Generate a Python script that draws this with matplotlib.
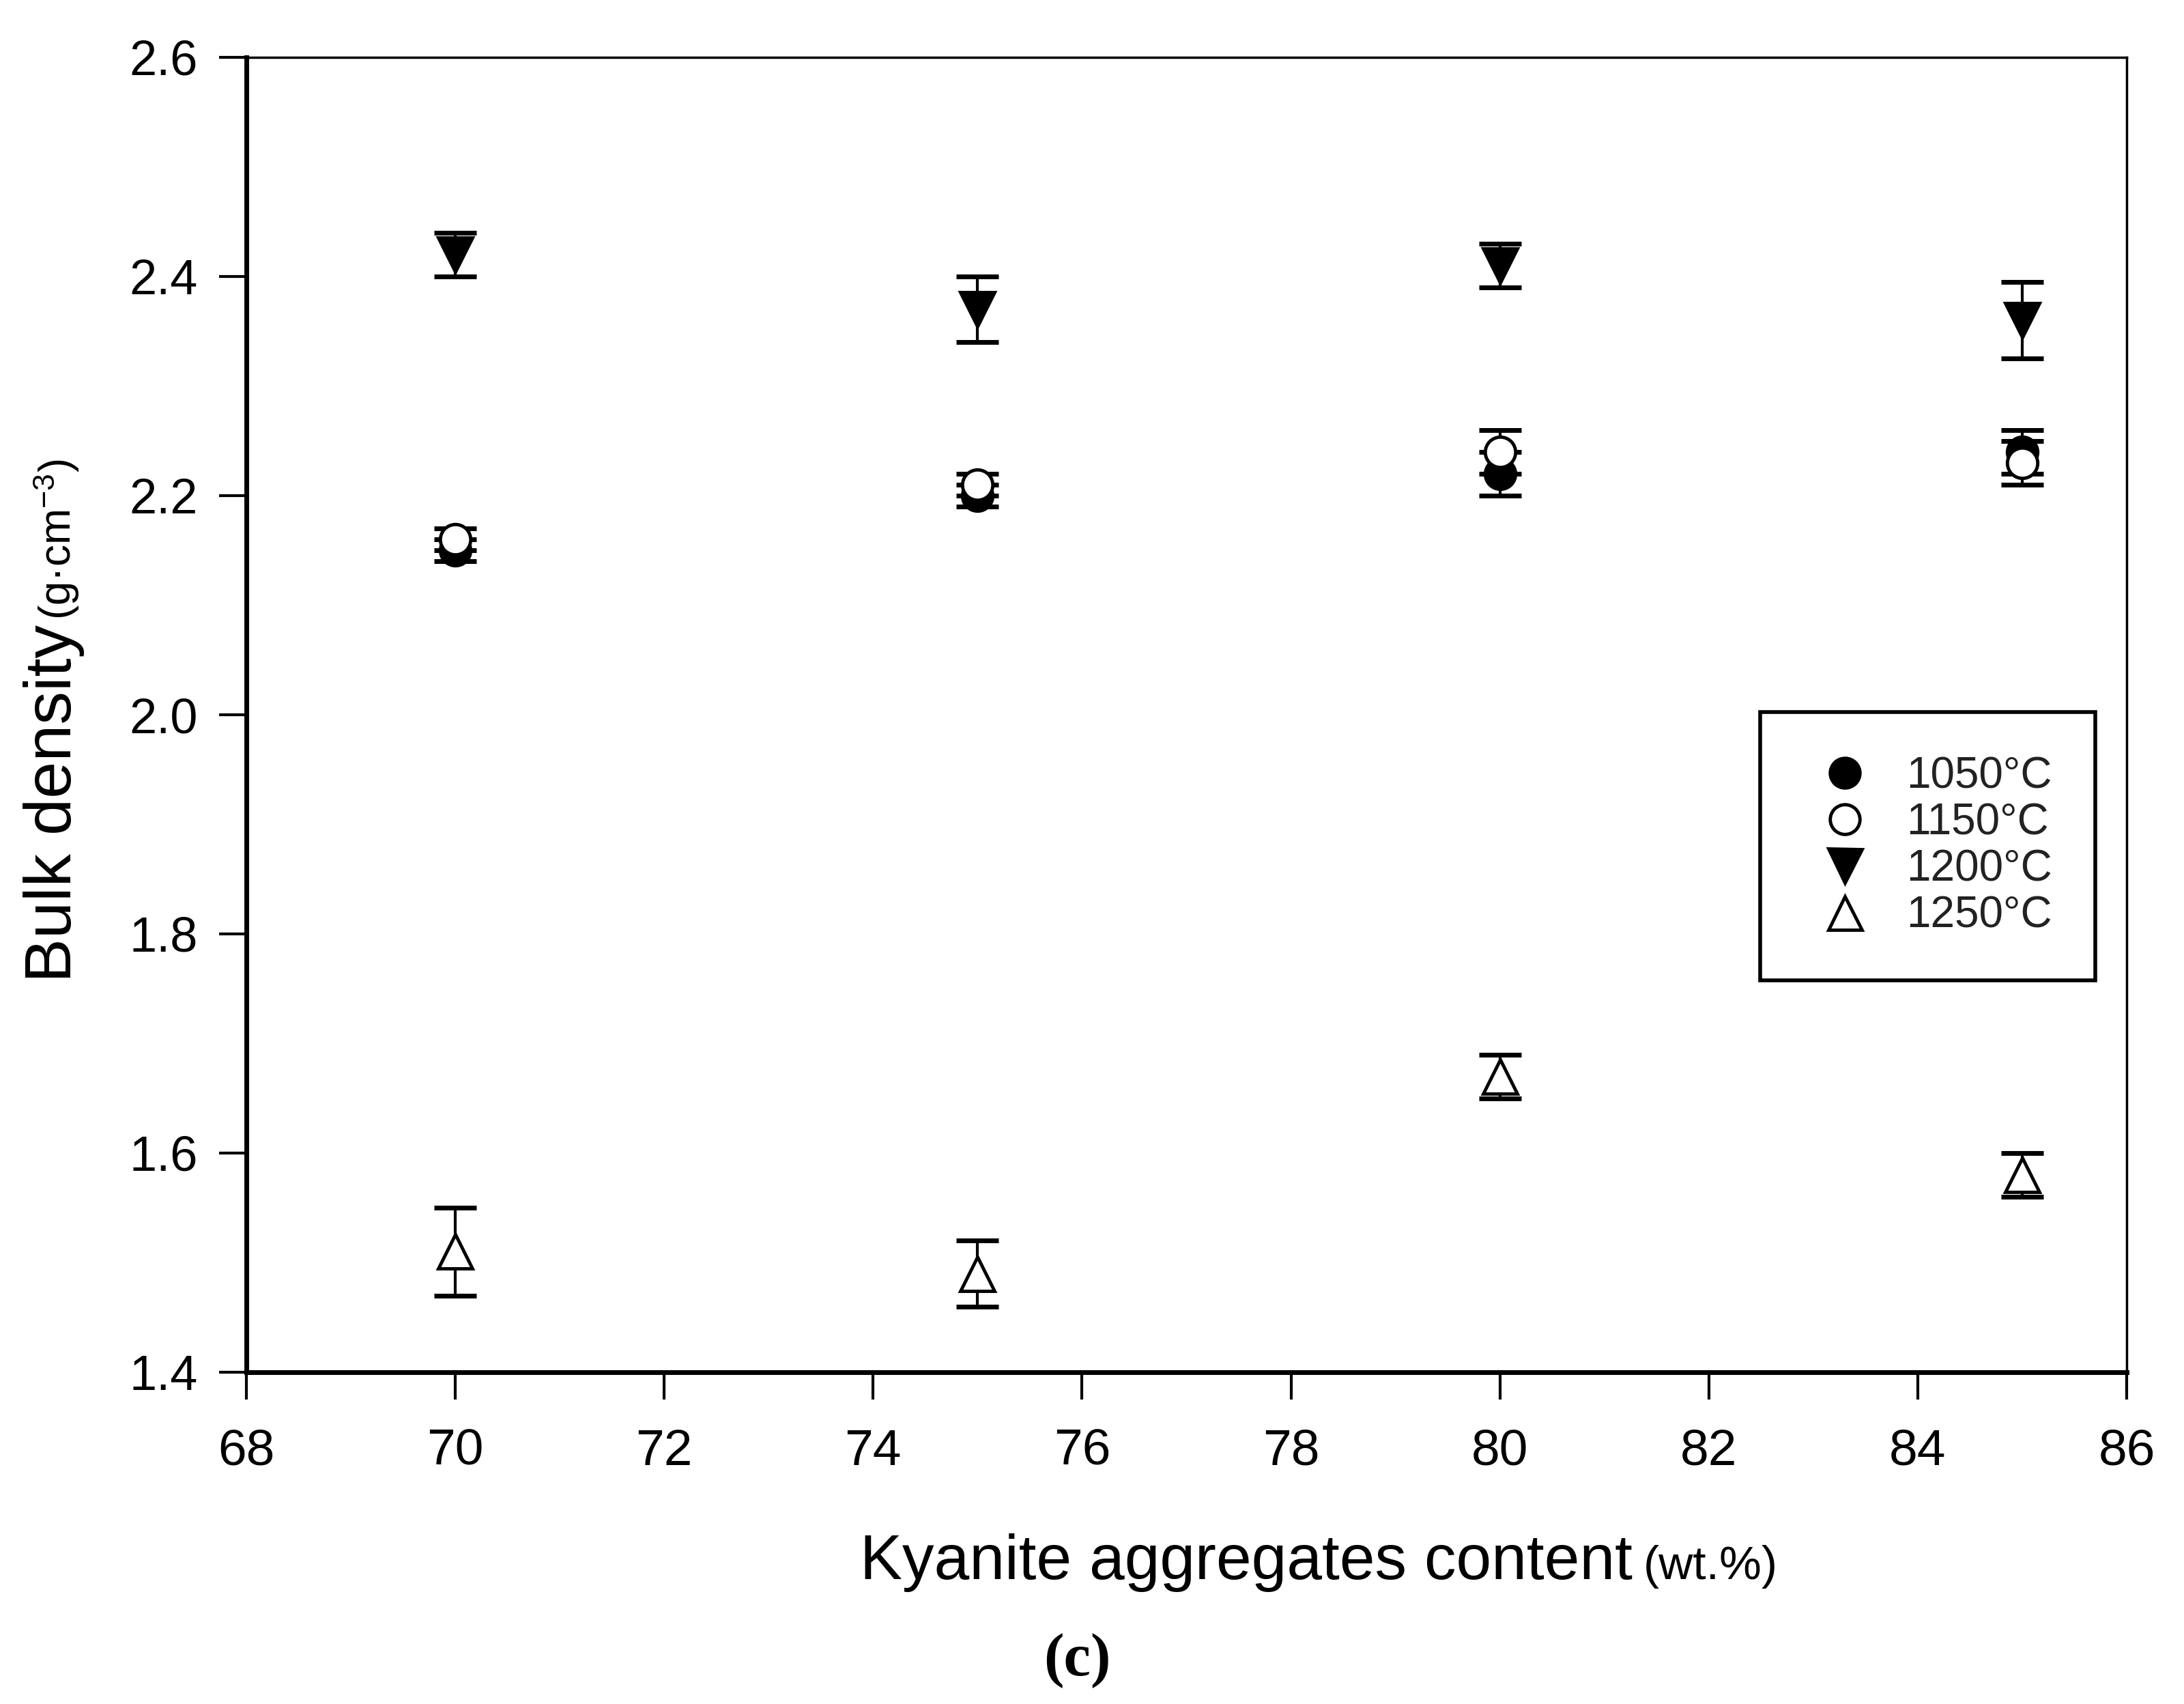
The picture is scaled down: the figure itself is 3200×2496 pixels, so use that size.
"""
Bulk density vs kyanite aggregates content, four firing temperatures.
Saves out.png.
"""

import matplotlib.pyplot as plt
import matplotlib.font_manager as fm

# data
content = [70, 75, 80, 85]

d1050 = [2.15, 2.20, 2.22, 2.24]
e1050 = [0.01, 0.01, 0.02, 0.02]
d1150 = [2.16, 2.21, 2.24, 2.23]
e1150 = [0.01, 0.01, 0.02, 0.02]
d1200 = [2.42, 2.37, 2.41, 2.36]
e1200 = [0.02, 0.03, 0.02, 0.035]
d1250 = [1.51, 1.49, 1.67, 1.58]
e1250 = [0.04, 0.03, 0.02, 0.02]

labels = ["1050°C", "1150°C", "1200°C", "1250°C"]
xticks = [68, 70, 72, 74, 76, 78, 80, 82, 84, 86]
yticks = [1.4, 1.6, 1.8, 2.0, 2.2, 2.4, 2.6]

names = {f.name for f in fm.fontManager.ttflist}
SANS = "Liberation Sans"
NARROW = "Liberation Sans Narrow" if "Liberation Sans Narrow" in names else SANS

plt.rcParams["font.family"] = SANS
plt.rcParams["mathtext.fontset"] = "custom"
plt.rcParams["mathtext.rm"] = NARROW
plt.rcParams["mathtext.it"] = NARROW

W, H = 3200, 2496
fig = plt.figure(figsize=(32, 24.96), dpi=100)
L, R, T, B = 361, 3116, 84, 2010
ax = fig.add_axes([L / W, 1 - B / H, (R - L) / W, (B - T) / H])

series = [
    (d1050, e1050, "o", "black", 32),
    (d1150, e1150, "o", "white", 32),
    (d1200, e1200, "v", "black", 36),
    (d1250, e1250, "^", "white", 36),
]
handles = []
for (vals, errs, mk, face, ms), lab in zip(series, labels):
    ax.errorbar(content, vals, yerr=errs, fmt="none", ecolor="black",
                elinewidth=3, capsize=22, capthick=5, zorder=2)
    h, = ax.plot(content, vals, linestyle="none", marker=mk, markersize=ms,
                 markerfacecolor=face, markeredgecolor="black",
                 markeredgewidth=3.5, label=lab, zorder=3)
    handles.append(h)

ax.set_xlim(68, 86)
ax.set_ylim(1.4, 2.6)
ax.set_xticks(xticks)
ax.set_yticks(yticks)
ax.set_yticklabels([f"{v:.1f}" for v in yticks])
ax.tick_params(direction="out", length=29, width=3)
ax.tick_params(axis="x", labelsize=54, pad=30)
ax.tick_params(axis="y", labelsize=52, pad=22)
for lab in ax.get_xticklabels():
    lab.set_family(NARROW)
for side in ["left", "bottom"]:
    ax.spines[side].set_linewidth(5)
for side in ["top", "right"]:
    ax.spines[side].set_linewidth(2.5)

leg = ax.legend(handles=handles, loc="upper left", bbox_to_anchor=(0.805, 0.502),
                borderaxespad=0, fontsize=46, frameon=True, fancybox=False,
                edgecolor="black", framealpha=1, handlelength=1.9,
                handletextpad=0.45, labelspacing=0.13, borderpad=1.0,
                markerscale=0.98)
leg.get_frame().set_linewidth(4)
for t in leg.get_texts():
    t.set_color("#222222")

# axis titles, main part and smaller unit part
fig.text(2392 / W, 1 - 2313 / H, "Kyanite aggregates content", family=NARROW,
         fontsize=67, ha="right", va="baseline")
fig.text(2408 / W, 1 - 2313 / H, "(wt.%)", family=NARROW,
         fontsize=50, ha="left", va="baseline")
fig.text(104 / W, 1 - 1439 / H, "Bulk density", family=NARROW, fontsize=70,
         rotation=90, rotation_mode="anchor", ha="left", va="baseline")
fig.text(104 / W, 1 - 908 / H, "(g·cm$^{-3}$)", family=NARROW, fontsize=46,
         rotation=90, rotation_mode="anchor", ha="left", va="baseline")

fig.text(1578 / W, 1 - 2433 / H, "(c)", family="Liberation Serif",
         fontweight="bold", fontsize=64, ha="center", va="center")

fig.savefig("out.png", dpi=100)
